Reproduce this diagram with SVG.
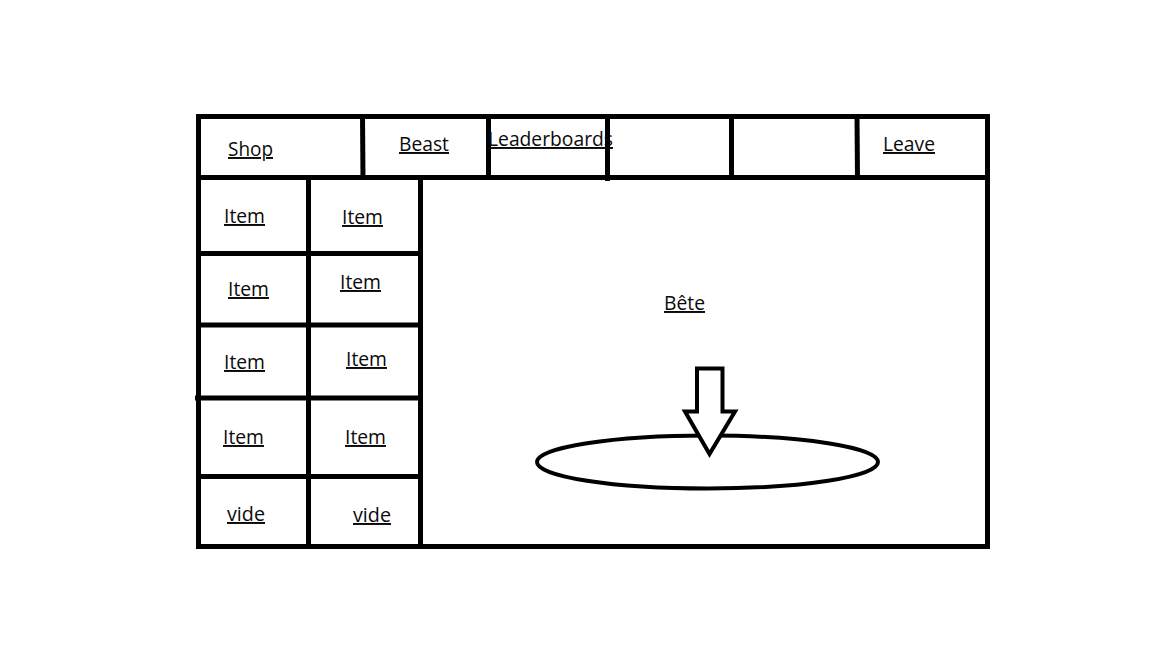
<svg xmlns="http://www.w3.org/2000/svg" width="1152" height="648" viewBox="0 0 1152 648">
<style>
.ln{stroke:#000;stroke-width:5;fill:none;stroke-linecap:butt}
.t{font-family:"Open Sans","Liberation Sans",sans-serif;font-size:19.5px;fill:#0a0a0a;text-decoration:underline}
</style>
<rect width="1152" height="648" fill="#fff"/>
<g id="frame">
<rect class="ln" x="198.5" y="116.5" width="789" height="430"/>
<line class="ln" x1="198" y1="177.5" x2="988" y2="177.5"/>
</g>
<g id="header-dividers">
<line class="ln" x1="362.5" y1="116" x2="363" y2="180"/>
<line class="ln" x1="488.5" y1="116" x2="488.5" y2="177"/>
<line class="ln" x1="607.5" y1="116" x2="607.5" y2="181"/>
<line class="ln" x1="731.5" y1="116" x2="731.5" y2="177"/>
<line class="ln" x1="857" y1="116" x2="857.5" y2="180"/>
</g>
<g id="grid">
<line class="ln" x1="308.5" y1="177" x2="308.5" y2="546"/>
<line class="ln" x1="420.5" y1="179" x2="420.5" y2="546"/>
<line class="ln" x1="198" y1="253.5" x2="422" y2="253.5"/>
<line class="ln" x1="198" y1="325" x2="420" y2="325"/>
<line class="ln" x1="195" y1="398" x2="420" y2="398"/>
<line class="ln" x1="198" y1="476.5" x2="422" y2="476.5"/>
</g>
<g id="labels">
<text class="t" x="228" y="156" textLength="45" lengthAdjust="spacingAndGlyphs">Shop</text>
<text class="t" x="399" y="151" textLength="50" lengthAdjust="spacingAndGlyphs">Beast</text>
<text class="t" x="488" y="146" textLength="125" lengthAdjust="spacingAndGlyphs">Leaderboards</text>
<text class="t" x="883" y="151" textLength="52" lengthAdjust="spacingAndGlyphs">Leave</text>
<text class="t" x="224" y="223" textLength="41" lengthAdjust="spacingAndGlyphs">Item</text>
<text class="t" x="342" y="224" textLength="41" lengthAdjust="spacingAndGlyphs">Item</text>
<text class="t" x="228" y="296" textLength="41" lengthAdjust="spacingAndGlyphs">Item</text>
<text class="t" x="340" y="289" textLength="41" lengthAdjust="spacingAndGlyphs">Item</text>
<text class="t" x="224" y="369" textLength="41" lengthAdjust="spacingAndGlyphs">Item</text>
<text class="t" x="346" y="366" textLength="41" lengthAdjust="spacingAndGlyphs">Item</text>
<text class="t" x="223" y="444" textLength="41" lengthAdjust="spacingAndGlyphs">Item</text>
<text class="t" x="345" y="444" textLength="41" lengthAdjust="spacingAndGlyphs">Item</text>
<text class="t" x="227" y="521" textLength="38" lengthAdjust="spacingAndGlyphs">vide</text>
<text class="t" x="353" y="522" textLength="38" lengthAdjust="spacingAndGlyphs">vide</text>
<text class="t" x="664" y="310" textLength="41" lengthAdjust="spacingAndGlyphs">Bête</text>
</g>
<g id="platform">
<ellipse cx="707.5" cy="462" rx="170.5" ry="26.5" fill="none" stroke="#000" stroke-width="4"/>
</g>
<g id="arrow">
<polygon points="697,368.5 722.5,368.5 722.5,411.5 735,411.5 709.5,454 685,411.5 697,411.5" fill="#fff" stroke="#000" stroke-width="4" stroke-linejoin="miter"/>
</g>
</svg>
